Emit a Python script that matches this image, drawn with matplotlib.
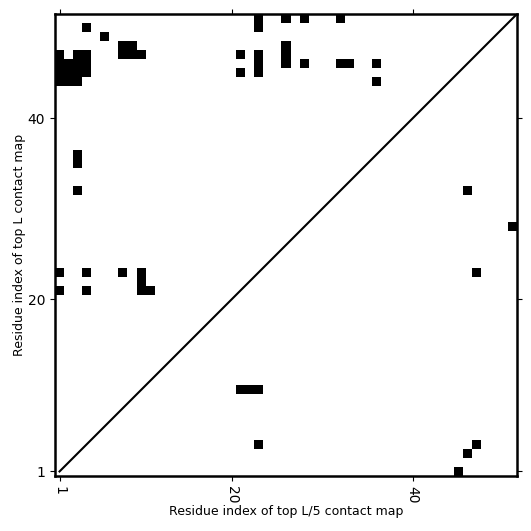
import numpy as np
import matplotlib
matplotlib.use("Agg")
import matplotlib.pyplot as plt

# sequence length
L = 51

# top L predicted contacts (residue i < residue j), drawn above the diagonal
top_l_i = [1, 1, 1, 1, 1, 1,
           2, 2, 2,
           3, 3, 3, 3, 3, 3, 3,
           4, 4, 4, 4, 4, 4,
           6,
           8, 8, 8,
           9, 9,
           10, 10, 10, 10,
           11,
           21, 21,
           23, 23, 23, 23, 23,
           26, 26, 26, 26,
           28, 28,
           32, 32,
           33,
           36, 36]
top_l_j = [44, 45, 46, 47, 23, 21,
           44, 45, 46,
           44, 45, 46, 47, 35, 36, 32,
           45, 46, 47, 50, 23, 21,
           49,
           47, 48, 23,
           47, 48,
           47, 21, 22, 23,
           21,
           47, 45,
           50, 51, 45, 46, 47,
           51, 46, 47, 48,
           51, 46,
           51, 46,
           46,
           46, 44]

# top L/5 contacts, drawn below the diagonal
top_l5_i = [10, 10, 10, 4, 1, 3, 4, 32, 23, 28]
top_l5_j = [21, 22, 23, 23, 45, 46, 47, 46, 47, 51]

ticks = [1, 20, 40]

# build the map
cmap_data = np.zeros((L, L))
for i, j in zip(top_l_i, top_l_j):
    cmap_data[j - 1, i - 1] = 1
for i, j in zip(top_l5_i, top_l5_j):
    cmap_data[i - 1, j - 1] = 1

fig = plt.figure(figsize=(5.31, 5.31), dpi=100)
ax = fig.add_axes([0.1036, 0.1036, 0.87, 0.87])

ax.imshow(cmap_data, cmap="Greys", origin="lower", interpolation="nearest",
          extent=(0.5, L + 0.5, 0.5, L + 0.5), vmin=0, vmax=1)
ax.plot([1, L + 1], [1, L + 1], color="black", linewidth=1.5)
ax.set_xlim(0.5, L + 0.5)
ax.set_ylim(0.5, L + 0.5)

ax.set_xticks(ticks)
ax.set_xticklabels([str(t) for t in ticks], rotation=-90)
ax.set_yticks(ticks)
ax.set_yticklabels([str(t) for t in ticks])
ax.tick_params(top=True, right=True, direction="out")

for s in ax.spines.values():
    s.set_linewidth(1.8)

ax.set_xlabel("Residue index of top L/5 contact map", fontsize=9, labelpad=1.5)
ax.set_ylabel("Residue index of top L contact map", fontsize=9, labelpad=1)

fig.savefig("out.png", dpi=100)
